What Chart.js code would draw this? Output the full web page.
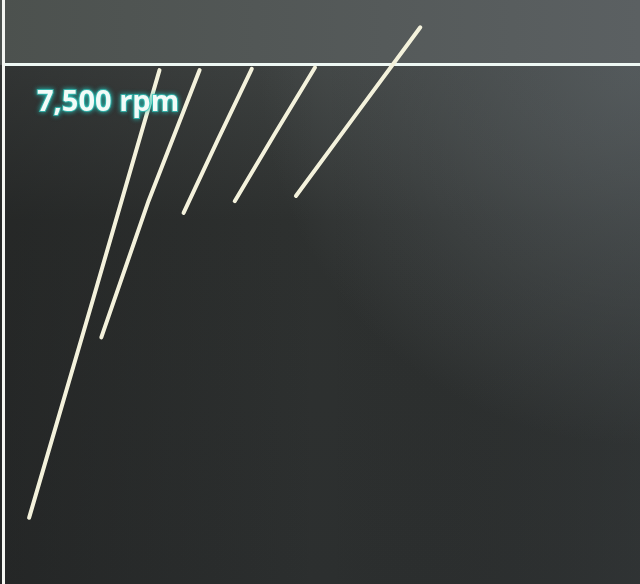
<!DOCTYPE html>
<html>
<head>
<meta charset="utf-8">
<script src="https://cdn.jsdelivr.net/npm/chart.js@4.4.1/dist/chart.umd.min.js"></script>
<style>
html,body{margin:0;padding:0;background:#2c2e2d;}
#wrap{position:relative;width:640px;height:584px;}
canvas{display:block;}
</style>
</head>
<body>
<div id="wrap"><canvas id="c" width="640" height="584"></canvas></div>
<script>
// Gear pulls: time (s) vs engine speed (rpm)
const shiftRpm = 7500;
const rpmLabel = "7,500 rpm";
const gear1Time = [0.52, 1.80, 3.12];
const gear1Rpm  = [4010, 5700, 7460];
const gear2Time = [1.96, 2.90, 3.92];
const gear2Rpm  = [5400, 6450, 7460];
const gear3Time = [3.60, 4.28, 4.96];
const gear3Rpm  = [6360, 6920, 7470];
const gear4Time = [4.62, 5.42, 6.22];
const gear4Rpm  = [6450, 6970, 7480];
const gear5Time = [5.84, 7.06, 8.32];
const gear5Rpm  = [6490, 7130, 7790];

function pts(t, r){ return t.map((x,i)=>({x:x, y:r[i]})); }
const gears = [[gear1Time,gear1Rpm],[gear2Time,gear2Rpm],[gear3Time,gear3Rpm],[gear4Time,gear4Rpm],[gear5Time,gear5Rpm]];

const bgPlugin = {
  id:'bg',
  beforeDraw(chart){
    const {ctx, width, height} = chart;
    const yLine = chart.scales.y.getPixelForValue(shiftRpm);
    ctx.save();
    // lower region: vertical gradient
    const g = ctx.createLinearGradient(0, yLine, 0, height);
    g.addColorStop(0, '#3f4342');
    g.addColorStop(0.3, '#2e3130');
    g.addColorStop(1, '#2c2f2f');
    ctx.fillStyle = g;
    ctx.fillRect(0,0,width,height);
    // right side lighter near top
    const r = ctx.createRadialGradient(width, yLine, 10, width, yLine, 380);
    r.addColorStop(0, 'rgba(92,98,100,0.9)');
    r.addColorStop(1, 'rgba(92,98,100,0)');
    ctx.fillStyle = r;
    ctx.fillRect(0,0,width,height);
    // left side darker, right side slight blue lift
    const h = ctx.createLinearGradient(0,0,width,0);
    h.addColorStop(0,'rgba(18,18,18,0.3)');
    h.addColorStop(0.5,'rgba(18,18,18,0)');
    h.addColorStop(1,'rgba(62,68,72,0.2)');
    ctx.fillStyle = h;
    ctx.fillRect(0,yLine,width,height-yLine);
    // top band above the threshold line
    const g2 = ctx.createLinearGradient(0,0,width,0);
    g2.addColorStop(0,'#4c514e');
    g2.addColorStop(1,'#5b6062');
    ctx.fillStyle = g2;
    ctx.fillRect(0,0,width,yLine);
    ctx.restore();
  }
};

const labelPlugin = {
  id:'lbl',
  afterDraw(chart){
    const {ctx} = chart;
    const yLine = chart.scales.y.getPixelForValue(shiftRpm);
    ctx.save();
    ctx.font = 'bold 29px "Open Sans", sans-serif';
    ctx.textBaseline = 'alphabetic';
    ctx.shadowColor = 'rgba(40,200,190,0.9)';
    ctx.shadowBlur = 5;
    ctx.lineWidth = 2;
    ctx.strokeStyle = 'rgba(60,200,190,0.7)';
    ctx.strokeText(rpmLabel, 37, yLine + 46);
    ctx.fillStyle = '#f2fbf8';
    ctx.fillText(rpmLabel, 37, yLine + 46);
    ctx.restore();
  }
};

new Chart(document.getElementById('c'), {
  type:'scatter',
  data:{
    datasets: gears.map(([t,r],i)=>({
      label:'Gear '+(i+1),
      data: pts(t,r),
      showLine:true,
      borderColor:'#f4f2dc',
      backgroundColor:'#f4f2dc',
      borderWidth:4,
      pointRadius:0,
      borderCapStyle:'round',
      tension:0
    }))
  },
  options:{
    responsive:false,
    animation:false,
    layout:{padding:{left:3, top:0, right:0, bottom:0}},
    plugins:{legend:{display:false}, tooltip:{enabled:false}},
    scales:{
      x:{type:'linear', min:0, max:12.7, display:false},
      y:{type:'linear', min:3500, max:8000,
         afterBuildTicks(s){ s.ticks = [{value:shiftRpm}]; },
         ticks:{display:false},
         grid:{color:'#eef8f4', lineWidth:3, drawTicks:false},
         border:{display:true, color:'#f4f6f2', width:3}
      }
    }
  },
  plugins:[bgPlugin, labelPlugin]
});
</script>
</body>
</html>
